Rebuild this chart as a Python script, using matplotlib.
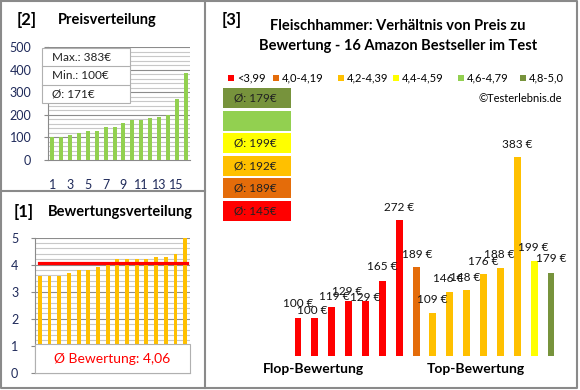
import matplotlib
matplotlib.use("Agg")
import matplotlib.pyplot as plt
from matplotlib.patches import Rectangle

plt.rcParams['font.family'] = ['Lato', 'DejaVu Sans']

W, H = 580, 390

# ======================================================================================================================
# data
prices_sorted = [100, 100, 109, 119, 129, 129, 146, 148, 165, 176, 179, 188, 189, 199, 272, 383]
price_ticks = [0, 100, 200, 300, 400, 500]
price_max, price_min, price_avg = 383, 100, 171

ratings_sorted = [3.6, 3.6, 3.6, 3.7, 3.8, 3.8, 3.9, 4.0, 4.2, 4.2, 4.2, 4.2, 4.3, 4.3, 4.4, 5.0]
rating_ticks = [0, 1, 2, 3, 4, 5]
avg_rating = 4.06

# products ordered from flop to top rating
product_prices = [100, 100, 119, 129, 129, 165, 272, 189, 109, 146, 148, 176, 188, 383, 199, 179]
product_groups = [0, 0, 0, 0, 0, 0, 0, 1, 2, 2, 2, 2, 2, 2, 3, 5]
group_labels = ['<3,99', '4,0-4,19', '4,2-4,39', '4,4-4,59', '4,6-4,79', '4,8-5,0']
group_avgs = [145, 189, 192, 199, None, 179]
group_colors = ['#ff0000', '#e46c0a', '#ffc000', '#ffff00', '#92d050', '#77933c']

# label nudges (pixels) like in the original
label_dx = [0, -3, 2, -1, 0, 0, 0, 1, -1, -2, -1, 0, -1, 0, -1, 0]
label_dy = [14, 7, 10, 10, 4, 14, 13, 13, 13, 13, 13, 13, 13, 13, 14, 14]

TICK_COL = '#1f2a5a'
GRID_MINOR = '#c8c8c8'
GRID_MAJOR = '#8c8c8c'
FRAME = '#8a8a8a'


def rect(x0, y0, x1, y1):
    return [x0 / W, 1 - y1 / H, (x1 - x0) / W, (y1 - y0) / H]


def excel_grid(ax, step, top, major):
    v = step
    while v <= top + 1e-9:
        is_major = abs(v / major - round(v / major)) < 1e-6
        ax.axhline(v, color=GRID_MAJOR if is_major else GRID_MINOR, lw=0.8, zorder=1)
        v += step


fig = plt.figure(figsize=(W / 100, H / 100), dpi=100)

# ======================================================================================================================
# [2] Preisverteilung
ax1 = fig.add_axes(rect(48, 47, 190, 160))
n = len(prices_sorted)
ax1.bar(range(1, n + 1), prices_sorted, width=0.45, color='#92d050', zorder=3)
ax1.set_xlim(0.5, n + 0.5)
ax1.set_ylim(0, 500)
excel_grid(ax1, 20, 500, 100)
ax1.set_yticks(price_ticks)
ax1.set_xticks(range(1, n + 1, 2))
ax1.tick_params(axis='y', length=3, color=FRAME, pad=9, labelsize=9, labelcolor=TICK_COL)
ax1.tick_params(axis='x', length=0, pad=14, labelsize=9, labelcolor=TICK_COL)
for s in ['top', 'right']:
    ax1.spines[s].set_visible(False)
for s in ['left', 'bottom']:
    ax1.spines[s].set_color(FRAME)

# ======================================================================================================================
# [1] Bewertungsverteilung
ax2 = fig.add_axes(rect(35, 237.7, 190, 372.7))
ax2.bar(range(1, n + 1), ratings_sorted, width=0.4, color='#ffc000', zorder=3)
ax2.axhline(avg_rating, xmin=0.026, xmax=0.98, color='#ff0000', lw=2.3, zorder=4)
ax2.set_xlim(0.5, n + 0.5)
ax2.set_ylim(0, 5)
excel_grid(ax2, 0.2, 5, 1)
ax2.set_yticks(rating_ticks)
ax2.set_xticks([])
ax2.tick_params(axis='y', length=3, color=FRAME, pad=9, labelsize=9, labelcolor=TICK_COL)
for s in ['top', 'right']:
    ax2.spines[s].set_visible(False)
for s in ['left', 'bottom']:
    ax2.spines[s].set_color(FRAME)

# ======================================================================================================================
# [3] Preis zu Bewertung
ax3 = fig.add_axes(rect(289.6, 136, 559.4, 356))
m = len(product_prices)
bar_cols = [group_colors[g] for g in product_groups]
ax3.bar(range(m), product_prices, width=0.41, color=bar_cols)
ax3.set_xlim(-0.5, m - 0.5)
ax3.set_ylim(32.4, 420)
ax3.axis('off')
for i, p in enumerate(product_prices):
    ax3.annotate(f'{p} €', (i, p), xytext=(label_dx[i], label_dy[i]), textcoords='offset pixels',
                 ha='center', va='center', fontsize=8.5, color='#111111')

# ======================================================================================================================
# overlay: frames, titles, boxes
ov = fig.add_axes([0, 0, 1, 1], zorder=10)
ov.set_xlim(0, W)
ov.set_ylim(H, 0)
ov.axis('off')
ov.patch.set_alpha(0)

ov.plot([1, 577, 577, 1, 1], [1, 1, 388, 388, 1], color=FRAME, lw=1.5)
ov.plot([205, 205], [1, 388], color=FRAME, lw=1.5)
ov.plot([1, 205], [191, 191], color=FRAME, lw=1.5)

ov.text(17, 20, '[2]', fontsize=12, fontweight='bold', va='center', ha='left')
ov.text(58, 20, 'Preisverteilung', fontsize=10.5, fontweight='bold', va='center', ha='left')
ov.text(14, 212, '[1]', fontsize=12, fontweight='bold', va='center', ha='left')
ov.text(48, 212, 'Bewertungsverteilung', fontsize=10.5, fontweight='bold', va='center', ha='left')
ov.text(222, 20, '[3]', fontsize=12, fontweight='bold', va='center', ha='left')
ov.text(398, 26, 'Fleischhammer: Verhältnis von Preis zu', fontsize=10.5, fontweight='bold', va='center', ha='center')
ov.text(398, 46, 'Bewertung - 16 Amazon Bestseller im Test', fontsize=10.5, fontweight='bold', va='center', ha='center')

# price summary box
box_rows = [f'Max.: {price_max}€', f'Min.: {price_min}€', f'Ø: {price_avg}€']
row_h = 18.3
ov.add_patch(Rectangle((42, 48), 88, row_h * 3, facecolor='white', edgecolor='#b0b0b0', lw=0.8))
for k, t in enumerate(box_rows):
    if k > 0:
        ov.plot([42, 130], [48 + row_h * k, 48 + row_h * k], color='#b0b0b0', lw=0.8)
    ov.text(52, 48 + row_h * (k + 0.5), t, fontsize=8.5, va='center', ha='left', color='#222222')

# rating summary box
ov.add_patch(Rectangle((35, 344), 155, 29, facecolor='white', edgecolor='#b0b0b0', lw=0.8))
ov.text(112, 359, f'Ø Bewertung: {avg_rating:.2f}'.replace('.', ','), fontsize=10, color='#ff0000',
        va='center', ha='center')

# legend row
leg_x = [228, 273, 338, 393, 458, 520]
for k, lab in enumerate(group_labels):
    ov.add_patch(Rectangle((leg_x[k], 75), 6, 6, facecolor=group_colors[k], edgecolor='none'))
    ov.text(leg_x[k] + 9, 78, lab, fontsize=8, va='center', ha='left')
ov.text(562, 98, '©Testerlebnis.de', fontsize=8, va='center', ha='right')

# group average boxes, top to bottom: best group first
for j, k in enumerate(reversed(range(len(group_labels)))):
    y0 = 88 + 22.6 * j
    ov.add_patch(Rectangle((223, y0), 68, 20, facecolor=group_colors[k], edgecolor='none'))
    if group_avgs[k] is not None:
        ov.text(255, y0 + 10, f'Ø: {group_avgs[k]}€', fontsize=8.5, va='center', ha='center', color='#222222')

ov.text(263, 369, 'Flop-Bewertung', fontsize=10, fontweight='bold', va='center', ha='left')
ov.text(427, 369, 'Top-Bewertung', fontsize=10, fontweight='bold', va='center', ha='left')

fig.savefig('out.png', dpi=100)
